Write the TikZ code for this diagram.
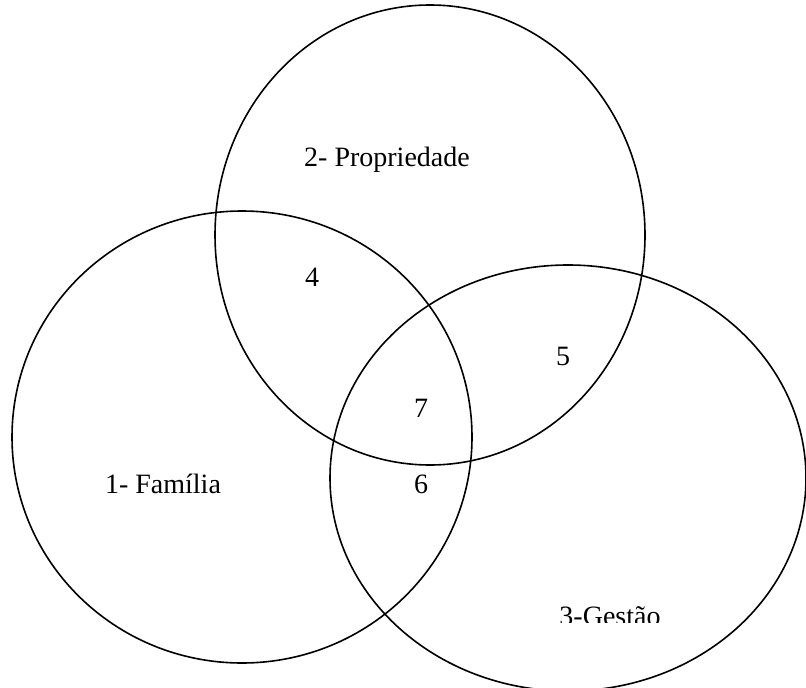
\documentclass[tikz,border=0pt]{standalone}
\usepackage{fontspec}
\setmainfont{Liberation Serif}
\begin{document}
\begin{tikzpicture}[x=0.75pt, y=-0.75pt, set line/.style={draw=black, line width=1.2pt},
  set label/.style={font=\fontsize{21}{25}\selectfont, inner sep=0pt}]
\useasboundingbox (0,0) rectangle (806,688);
\clip (0,0) rectangle (806,688);
\begin{scope}
\draw[set line] (242,437) ellipse [x radius=230, y radius=226];
\draw[set line] (430,235) ellipse [x radius=215, y radius=230];
\draw[set line] (568,478) ellipse [x radius=238, y radius=213];
\end{scope}
\begin{scope}[every node/.style={set label}]
\node (propriedade) at (387,160) {2- Propriedade};
\node (familia) at (163,484) {1- Família};
\node (n4) at (312,277) {4};
\node (n5) at (563,356) {5};
\node (n7) at (421,408) {7};
\node (n6) at (421,484) {6};
\end{scope}
\begin{scope}
\clip (500,560) rectangle (720,622);
\node[set label, anchor=base] (gestao) at (610,625) {3-Gestão};
\end{scope}
\end{tikzpicture}
\end{document}
